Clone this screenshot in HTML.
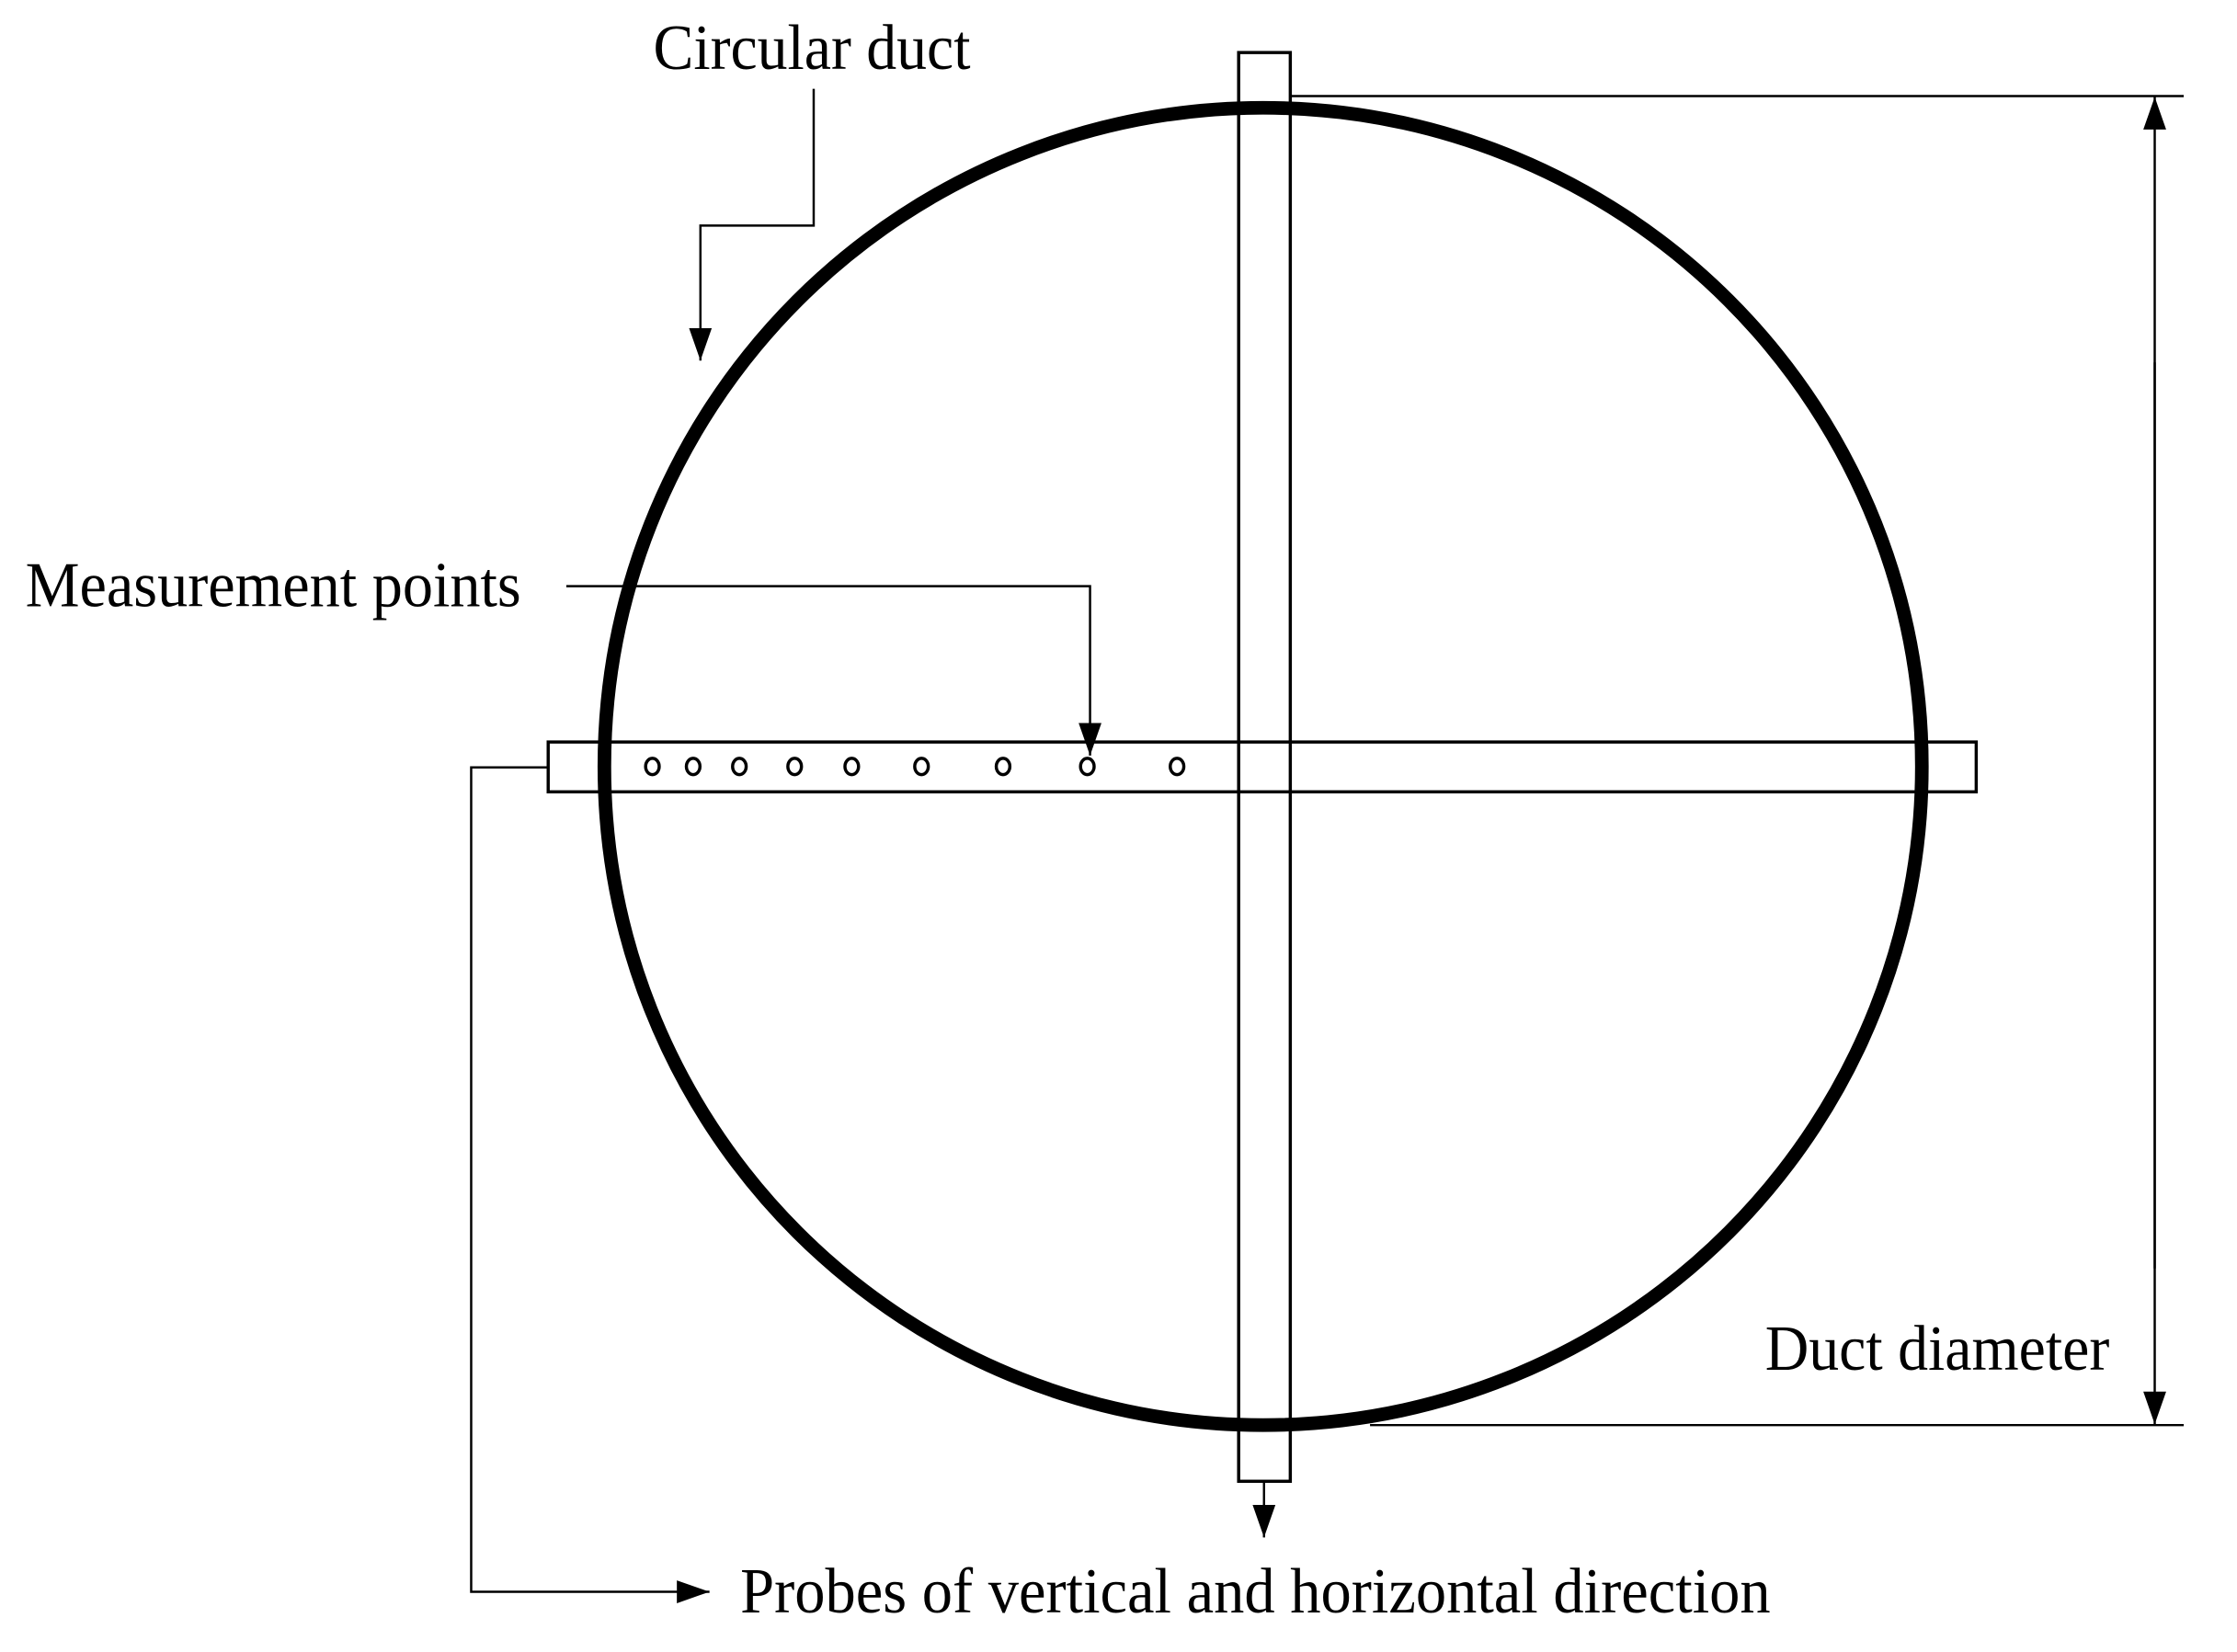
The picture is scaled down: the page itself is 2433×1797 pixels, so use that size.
<!DOCTYPE html>
<html><head><meta charset="utf-8"><style>html,body{margin:0;padding:0;background:#fff}svg{display:block}</style></head>
<body>
<svg width="2433" height="1797" viewBox="0 0 2433 1797" xmlns="http://www.w3.org/2000/svg">
<defs>
<marker id="ah" viewBox="0 0 10 10" refX="10" refY="5" markerWidth="36" markerHeight="36" markerUnits="userSpaceOnUse" orient="auto">
<path d="M0,1.5 L10,5 L0,8.5 Z" fill="#000"/></marker>
</defs>
<g transform="scale(0.9855)">
<g fill="none" stroke="#000">
<circle cx="1394" cy="846" r="727" stroke-width="15"/>
<rect x="605" y="819" width="1576" height="55" fill="none" stroke-width="3.5"/>
<rect x="1367" y="58" width="57" height="1577" fill="none" stroke-width="3.5"/>
<g stroke-width="3.5">
<ellipse cx="720" cy="846" rx="7.5" ry="9"/>
<ellipse cx="765" cy="846" rx="7.5" ry="9"/>
<ellipse cx="816" cy="846" rx="7.5" ry="9"/>
<ellipse cx="877" cy="846" rx="7.5" ry="9"/>
<ellipse cx="940" cy="846" rx="7.5" ry="9"/>
<ellipse cx="1017" cy="846" rx="7.5" ry="9"/>
<ellipse cx="1107" cy="846" rx="7.5" ry="9"/>
<ellipse cx="1200" cy="846" rx="7.5" ry="9"/>
<ellipse cx="1299" cy="846" rx="7.5" ry="9"/>
</g>
<g stroke-width="2.5">
<polyline points="898,98 898,249 773,249 773,398" marker-end="url(#ah)"/>
<polyline points="625,647 1203,647 1203,834" marker-end="url(#ah)"/>
<polyline points="605,847 520,847 520,1757 783,1757" marker-end="url(#ah)"/>
<line x1="1395" y1="1635" x2="1395" y2="1697" marker-end="url(#ah)"/>
<line x1="1424" y1="106" x2="2410" y2="106"/>
<line x1="1512" y1="1573" x2="2410" y2="1573"/>
<line x1="2378" y1="1400" x2="2378" y2="107" marker-end="url(#ah)"/>
<line x1="2378" y1="400" x2="2378" y2="1572" marker-end="url(#ah)"/>
</g>
</g>
<g font-family="'Liberation Serif', serif" font-size="71" fill="#000">
<text x="721" y="76" textLength="350" lengthAdjust="spacingAndGlyphs">Circular duct</text>
<text x="28" y="669" textLength="547" lengthAdjust="spacingAndGlyphs">Measurement points</text>
<text x="1948" y="1512" textLength="380" lengthAdjust="spacingAndGlyphs">Duct diameter</text>
<text x="817" y="1780" textLength="1137" lengthAdjust="spacingAndGlyphs">Probes of vertical and horizontal direction</text>
</g>
</g>
</svg>
</body></html>
